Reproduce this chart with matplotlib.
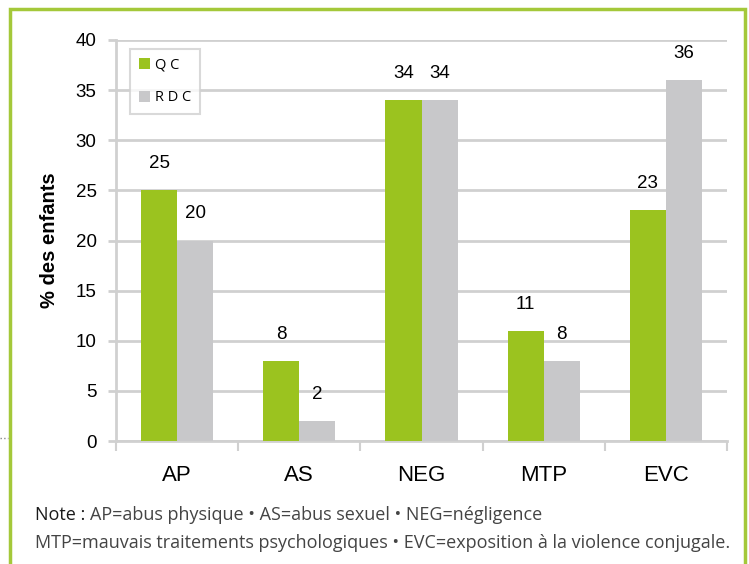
import matplotlib
matplotlib.use("Agg")
import matplotlib.pyplot as plt
from matplotlib.patches import Rectangle
from matplotlib.lines import Line2D
import numpy as np

# Data
categories = ["AP", "AS", "NEG", "MTP", "EVC"]
qc_values = [25, 8, 34, 11, 23]
rdc_values = [20, 2, 34, 8, 36]
series_labels = ["Q C", "R D C"]
yticks = [0, 5, 10, 15, 20, 25, 30, 35, 40]

green = "#9bc31f"
gray = "#c8c8ca"
grid_col = "#d0d0d0"

fig = plt.figure(figsize=(7.49, 5.64), dpi=100)
ax = fig.add_axes([116 / 749, 1 - 441 / 564, (727 - 116) / 749, (441 - 40) / 564])

x = np.arange(len(categories))
w = 0.295
bars_qc = ax.bar(x - w / 2, qc_values, w, color=green, zorder=3, label=series_labels[0])
bars_rdc = ax.bar(x + w / 2, rdc_values, w, color=gray, zorder=3, label=series_labels[1])

# value labels above bars
for bars, vals in [(bars_qc, qc_values), (bars_rdc, rdc_values)]:
    for bar, v in zip(bars, vals):
        ax.annotate(f"{v}", (bar.get_x() + bar.get_width() / 2, v), xytext=(0, 13),
                    textcoords="offset points", ha="center", va="bottom",
                    fontsize=13.5, family="Liberation Sans")

ax.set_xlim(-0.5, len(categories) - 0.5)
ax.set_ylim(0, 40)
ax.set_yticks(yticks)
ax.yaxis.grid(True, color=grid_col, linewidth=2, zorder=0)
ax.set_axisbelow(True)

for s in ["top", "right"]:
    ax.spines[s].set_visible(False)
for s in ["left", "bottom"]:
    ax.spines[s].set_color(grid_col)
    ax.spines[s].set_linewidth(2)

ax.tick_params(axis="y", length=6, width=2, color=grid_col, labelsize=13.5, pad=8)
ax.set_yticklabels([str(t) for t in yticks], family="Liberation Sans")

# category ticks at boundaries, labels in middle
ax.set_xticks(np.arange(len(categories) + 1) - 0.5)
ax.set_xticklabels([])
ax.tick_params(axis="x", length=7, width=1.5, color=grid_col)
ax.set_xticks(x, minor=True)
ax.set_xticklabels(categories, minor=True, family="Liberation Sans", fontsize=16)
ax.tick_params(axis="x", which="minor", length=0, pad=17)

ax.set_ylabel("% des enfants", fontsize=14.5, fontweight="bold", family="Liberation Sans", labelpad=12)

leg = ax.legend(loc="upper left", bbox_to_anchor=(14 / 611, 1 - 9 / 401), frameon=True,
                fancybox=False, edgecolor=grid_col, handlelength=0.75, handleheight=0.75,
                handletextpad=0.35, labelspacing=1.2, borderpad=0.6, borderaxespad=0,
                prop={"family": "Open Sans", "size": 10.5})
leg.get_frame().set_linewidth(1.5)

# note text
fig.text(35 / 749, 1 - 515 / 564, "Note :", fontsize=13, family="Open Sans", color="#1a1a1a", va="center")
fig.text(90 / 749, 1 - 515 / 564, "AP=abus physique • AS=abus sexuel • NEG=négligence",
         fontsize=13, family="Open Sans", color="#444444", va="center")
fig.text(35 / 749, 1 - 543 / 564,
         "MTP=mauvais traitements psychologiques • EVC=exposition à la violence conjugale.",
         fontsize=13, family="Open Sans", color="#444444", va="center")

# green frame
fig.patches.append(Rectangle((10 / 749, -0.1), (745 - 10) / 749, 1.1 - 9 / 564,
                             transform=fig.transFigure, fill=False, edgecolor="#a4c83a",
                             linewidth=2.5, clip_on=False))
fig.lines.append(Line2D([0, 8 / 749], [1 - 438 / 564] * 2, transform=fig.transFigure,
                        color="#888888", linestyle=":", linewidth=1))

fig.savefig("out.png", dpi=100)
